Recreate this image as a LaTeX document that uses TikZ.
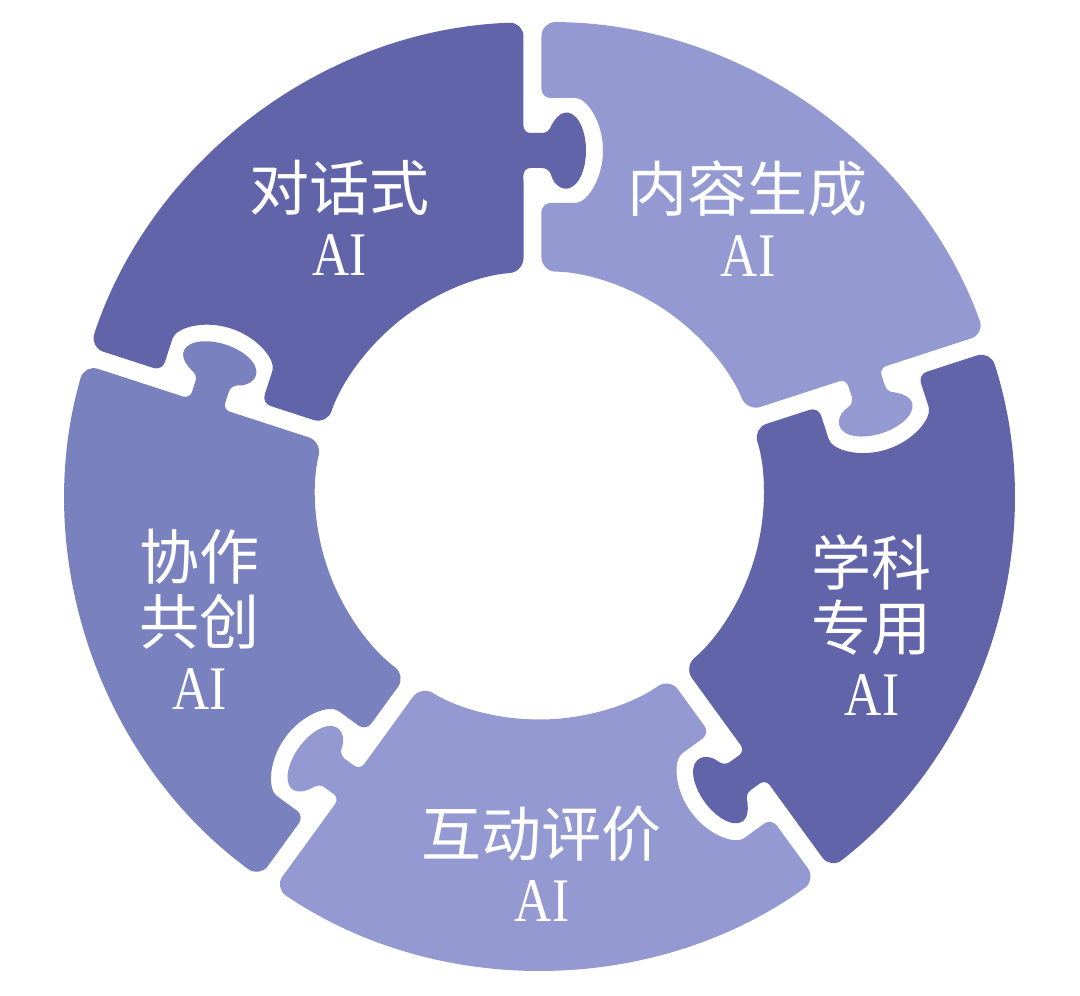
\documentclass[tikz,border=0pt]{standalone}
\usepackage{fontspec}
\newfontfamily\cjk{Noto Sans CJK SC}
\newfontfamily\ailatin[FakeStretch=0.83]{Liberation Serif}
\definecolor{piecedark}{HTML}{6264AA}
\definecolor{piecelight}{HTML}{9599D2}
\definecolor{piecemid}{HTML}{7A81BF}
\usetikzlibrary{positioning}

% ring radii and knob sizes (1 unit = 1pt = 1px of the ring)
\def\Ro{473.5}
\def\Ri{224}
% one ring piece: tab on its clockwise edge (#1), notch on the other edge
\newcommand\puzzlepiece[2]{%
  \begin{scope}[rotate=#1]
    \fill[#2, rounded corners=14]
      (38:\Ri) arc[start angle=38, end angle=4.09, radius=\Ri]
      {[rounded corners=7] -- (327.5,16) -- (327.5,-9.7)
      arc[start angle=117.42, end angle=422.58, x radius=38, y radius=19.5]
      -- (362.5,16)} -- (1.94:\Ro)
      arc[start angle=1.94, end angle=71.76, radius=\Ro]
      {[rotate=72, rounded corners=9] -- (397.5,-2) -- (397.5,-27)
        arc[start angle=0, end angle=-180, x radius=52.5, y radius=36.5]
        -- (292.5,-2)}
      -- (71.49:\Ri)
      arc[start angle=71.49, end angle=38, radius=\Ri];
  \end{scope}}

\begin{document}
\begin{tikzpicture}[x=1pt, y=1pt,
        lbl/.style={text=white, align=center, inner sep=0pt,
            font=\fontsize{60}{65}\selectfont}]
    \useasboundingbox (-539.5,-500.5) rectangle (540.5,495.5);
    \fill[white] (-539.5,-500.5) rectangle (540.5,495.5);

    \foreach \edge/\col in {90/piecedark, 18/piecelight, -54/piecedark,
            -126/piecelight, 162/piecemid}
        \puzzlepiece{\edge}{\col};

    \node[lbl] (dialog)  at (-199.5,278) {{\cjk 对话式}\\{\ailatin\fontsize{62}{62}\selectfont AI}};
    \node[lbl] (content) at (208.5,277)  {{\cjk 内容生成}\\{\ailatin\fontsize{62}{62}\selectfont AI}};
    \node[lbl] (subject) at (332.5,-129.5) {{\cjk 学科}\\{\cjk 专用}\\{\ailatin\fontsize{62}{65}\selectfont AI}};
    \node[lbl] (assess)  at (2.5,-368)   {{\cjk 互动评价}\\{\ailatin\fontsize{62}{62}\selectfont AI}};
    \node[lbl] (collab)  at (-339.5,-124) {{\cjk 协作}\\{\cjk 共创}\\{\ailatin\fontsize{62}{65}\selectfont AI}};
\end{tikzpicture}
\end{document}
